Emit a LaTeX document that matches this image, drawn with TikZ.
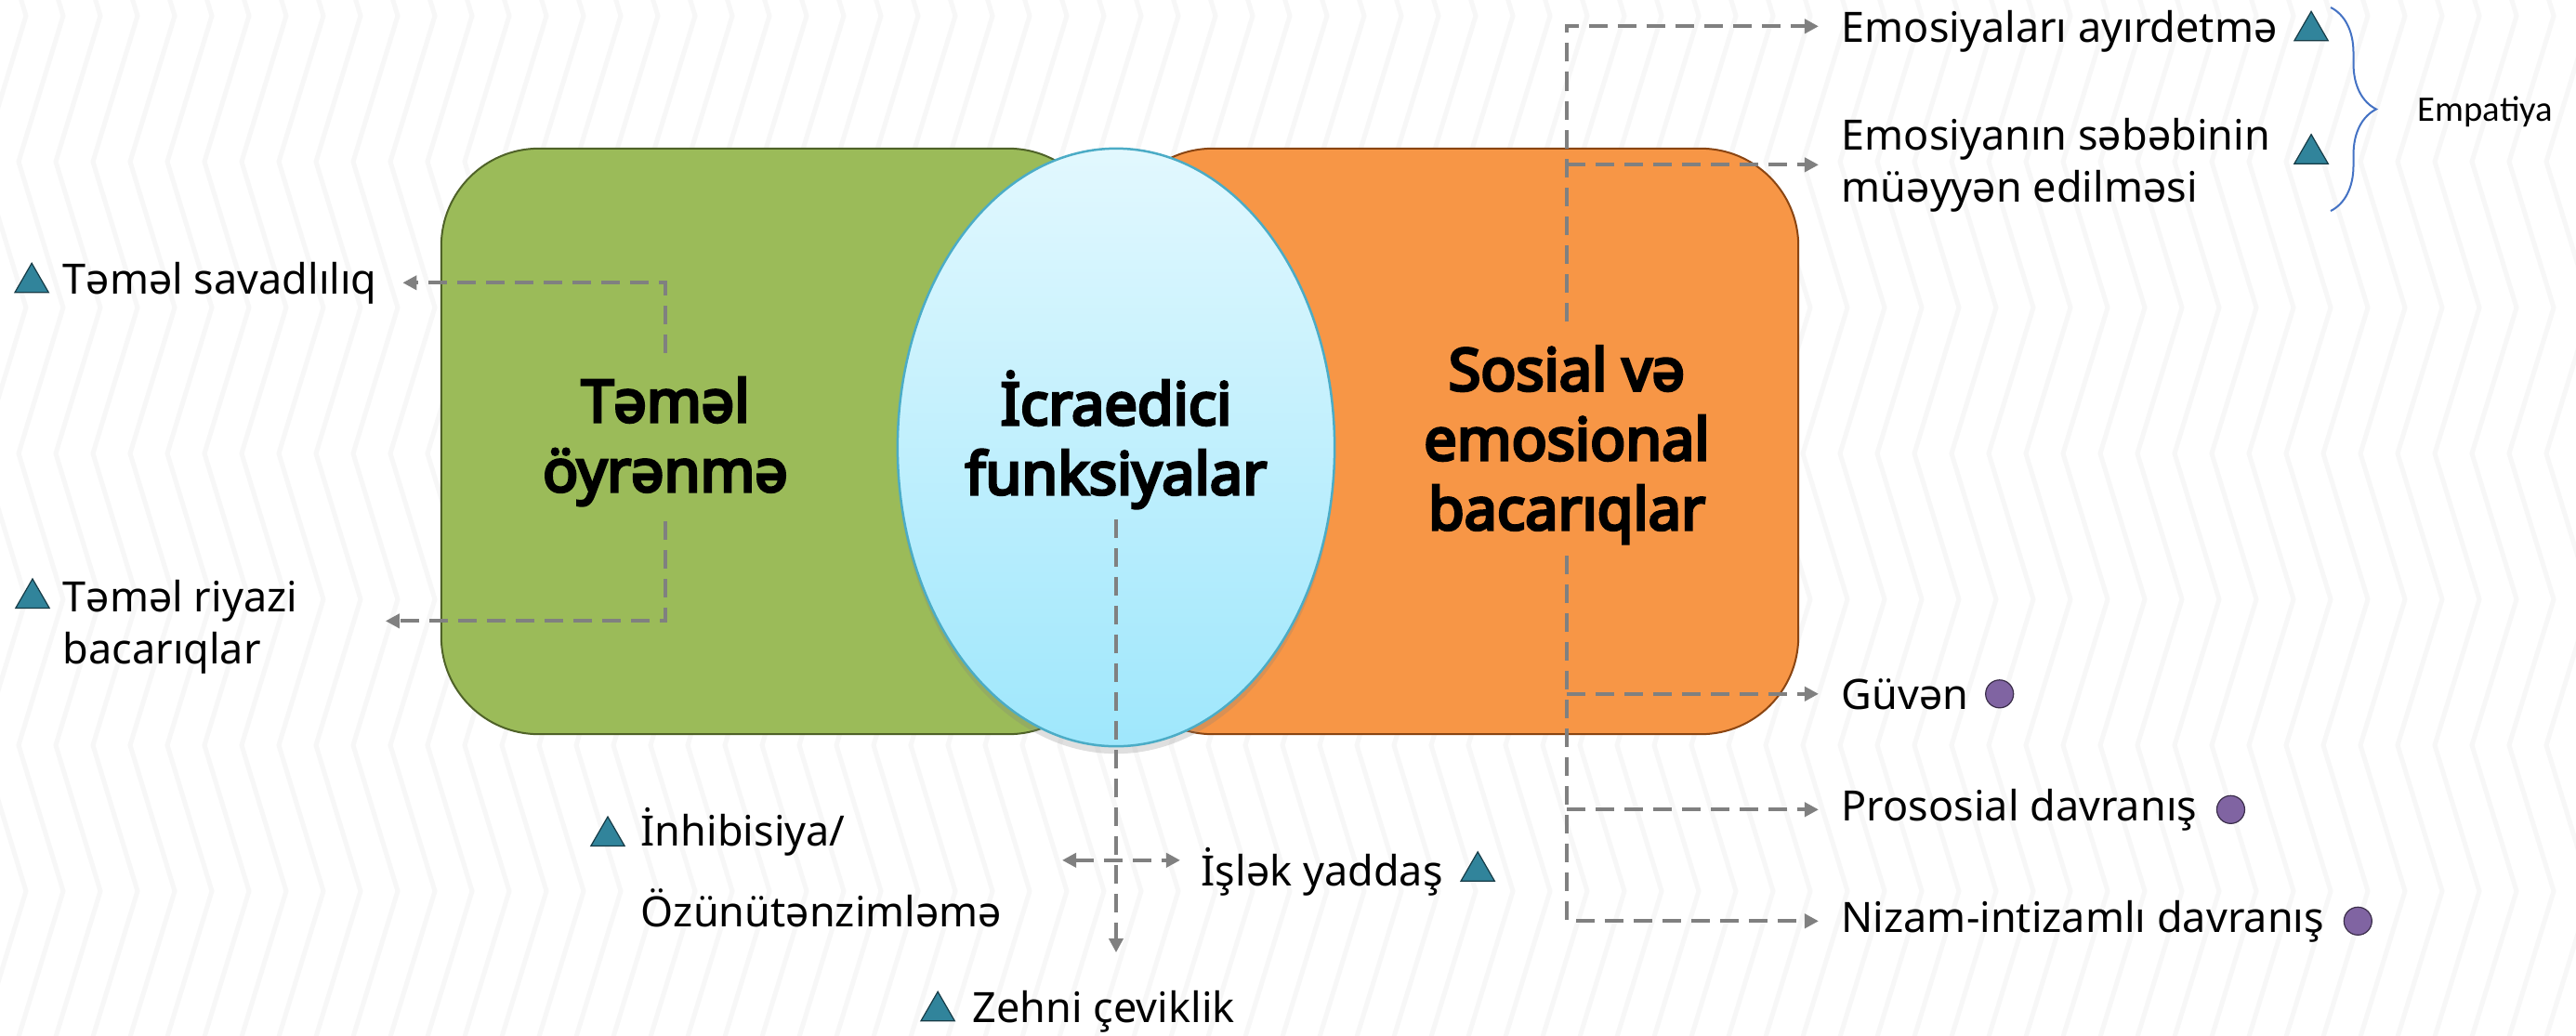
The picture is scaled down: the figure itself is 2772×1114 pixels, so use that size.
\documentclass[tikz,border=0pt]{standalone}
\usepackage{fontspec}
\setmainfont{Noto Sans}[AutoFakeBold=5]
\newfontfamily\calibrifont{Carlito}
\usetikzlibrary{positioning, arrows.meta, shapes.geometric, decorations.pathreplacing, shadows}

\definecolor{boxgreen}{HTML}{9BBB59}
\definecolor{boxgreenline}{HTML}{4F6228}
\definecolor{boxorange}{HTML}{F79646}
\definecolor{boxorangeline}{HTML}{8A4512}
\definecolor{ovaltop}{HTML}{E2F8FE}
\definecolor{ovalbottom}{HTML}{9FE7FC}
\definecolor{ovalline}{HTML}{4BACC6}
\definecolor{edgegray}{HTML}{808080}
\definecolor{markteal}{HTML}{31849B}
\definecolor{markpurple}{HTML}{8064A2}
\definecolor{braceblue}{HTML}{4472C4}

\begin{document}
\begin{tikzpicture}[x=0.01cm,y=-0.01cm]
  \tikzset{BoxStyle/.style = {
    shape           = rectangle,
    rounded corners = 1.05cm,
    line width      = 0.02cm,
    inner sep       = 0pt,
    outer sep       = 0pt
    }
  }
  \tikzset{OvalStyle/.style = {
    shape        = ellipse,
    draw         = ovalline,
    line width   = 0.025cm,
    top color    = ovaltop,
    bottom color = ovalbottom,
    minimum width  = 4.7cm,
    minimum height = 6.43cm,
    inner sep    = 0pt,
    drop shadow  = {shadow xshift=0pt, shadow yshift=-0.08cm, opacity=0.25}
    }
  }
  \tikzset{TitleStyle/.style = {
    font      = \bfseries\fontsize{17.9}{21.3}\selectfont,
    align     = center,
    anchor    = base,
    inner sep = 0pt,
    text      = black
    }
  }
  \tikzset{LabelStyle/.style = {
    font      = \fontsize{12.8}{15.9}\selectfont,
    align     = left,
    anchor    = base west,
    inner sep = 0pt,
    text      = black
    }
  }
  \tikzset{TriStyle/.style = {
    regular polygon,
    regular polygon sides = 3,
    minimum size  = 0.42cm,
    inner sep     = 0pt,
    fill          = markteal,
    draw          = markteal!45!black,
    line width    = 0.012cm
    }
  }
  \tikzset{DotStyle/.style = {
    circle,
    minimum size  = 0.3cm,
    inner sep     = 0pt,
    fill          = markpurple,
    draw          = markpurple!45!black,
    line width    = 0.012cm
    }
  }
  \tikzset{EdgeStyle/.style = {
    draw         = edgegray,
    line width   = 0.04cm,
    dash pattern = on 0.2cm off 0.11cm,
    -{Triangle[length=0.15cm, width=0.15cm]},
    shorten >=2.4mm
    }
  }
  \tikzset{BraceStyle/.style = {
    draw       = braceblue,
    line width = 0.02cm,
    decorate,
    decoration = {brace, amplitude=0.49cm}
    }
  }

  % background with faint chevrons
  \useasboundingbox (0,0) rectangle (2772,1114);
  \fill[white] (0,0) rectangle (2772,1114);
  \begin{scope}
    \clip (0,0) rectangle (2772,1114);
    \foreach \x in {-100,-60,...,2780}
      \draw[black!3, line width=0.05cm] (\x,-140) -- ++(48,157) -- ++(-48,157)
        -- ++(48,157) -- ++(-48,157) -- ++(48,157) -- ++(-48,157)
        -- ++(48,157) -- ++(-48,157) -- ++(48,157);
  \end{scope}

  % three areas
  \node[BoxStyle, fill=boxgreen, draw=boxgreenline,
        minimum width=7.15cm, minimum height=6.3cm](GreenBox) at (832.5, 475) {};
  \node[BoxStyle, fill=boxorange, draw=boxorangeline,
        minimum width=7.35cm, minimum height=6.3cm](OrangeBox) at (1567.5, 475) {};
  \node[OvalStyle](Oval) at (1201, 481.5) {};

  \node[TitleStyle](Lrn) at (716, 529) {Təməl\\öyrənmə};
  \node[TitleStyle](Icr) at (1201, 532) {İcraedici\\funksiyalar};
  \node[TitleStyle](Sos) at (1686, 570) {Sosial və\\emosional\\bacarıqlar};

  % left labels
  \node[LabelStyle](Savad) at (67, 316) {Təməl savadlılıq};
  \node[TriStyle, left=2mm of Savad](TriSavad) {};
  \node[LabelStyle](Riyazi) at (67, 714) {Təməl riyazi\\bacarıqlar};
  \node[TriStyle](TriRiyazi) at (35, 644) {};

  % right labels
  \node[LabelStyle](Emo1) at (1981, 45) {Emosiyaları ayırdetmə};
  \node[TriStyle, right=2.3mm of Emo1](TriEmo1) {};
  \node[LabelStyle](Emo2) at (1981, 217) {Emosiyanın səbəbinin\\müəyyən edilməsi};
  \node[TriStyle, below=0.99cm of TriEmo1](TriEmo2) {};
  \node[LabelStyle](Guv) at (1981, 763) {Güvən};
  \node[DotStyle, right=1.7mm of Guv](DotGuv) {};
  \node[LabelStyle](Pros) at (1981, 883) {Prososial davranış};
  \node[DotStyle, right=2mm of Pros](DotPros) {};
  \node[LabelStyle](Nizam) at (1981, 1003) {Nizam-intizamlı davranış};
  \node[DotStyle, right=2mm of Nizam](DotNizam) {};

  \coordinate (BraceTop) at (2508, 8);
  \coordinate (BraceBot) at (2508, 227);
  \draw[BraceStyle] (BraceTop) -- (BraceBot);
  \node[anchor=west, inner sep=0pt, font=\calibrifont\fontsize{11}{13}\selectfont](Empat) at (2601, 120) {Empatiya};

  % bottom labels
  \node[LabelStyle, font=\fontsize{12.8}{24.7}\selectfont](Inhib) at (689, 997) {İnhibisiya/\\Özünütənzimləmə};
  \node[TriStyle](TriInhib) at (654, 900) {};
  \node[LabelStyle](Islek) at (1292, 953) {İşlək yaddaş};
  \node[TriStyle, right=2.4mm of Islek](TriIslek) {};
  \node[LabelStyle](Zehni) at (1046, 1100) {Zehni çeviklik};
  \node[TriStyle, left=2.4mm of Zehni](TriZehni) {};

  % connectors
  \draw[EdgeStyle, shorten >=2.7mm]([yshift=0.26cm]Lrn.north) |- (Savad.east);
  \draw[EdgeStyle, shorten >=9.4mm]([yshift=-0.16cm]Lrn.south) |- ([yshift=0.06cm]Riyazi.east);
  \draw[EdgeStyle]([yshift=0.26cm]Sos.north) |- ([yshift=0.05cm]Emo1.west);
  \draw[EdgeStyle](Sos.north |- Emo2.west) -- (Emo2.west);
  \draw[EdgeStyle]([yshift=-0.12cm]Sos.south) |- (Nizam.west);
  \draw[EdgeStyle](Sos.south |- Guv.west) -- (Guv.west);
  \draw[EdgeStyle](Sos.south |- Pros.west) -- (Pros.west);
  \draw[EdgeStyle, shorten >=0pt]([yshift=-0.11cm]Icr.south) -- ([yshift=0.4cm]Icr.south |- Zehni.north);
  \draw[EdgeStyle, {Triangle[length=0.15cm, width=0.15cm]}-{Triangle[length=0.15cm, width=0.15cm]},
        shorten <=6.4mm, shorten >=2.2mm]([yshift=1.2mm]Inhib.east |- Islek.west) -- ([yshift=1.2mm]Islek.west);

\end{tikzpicture}
\end{document}
